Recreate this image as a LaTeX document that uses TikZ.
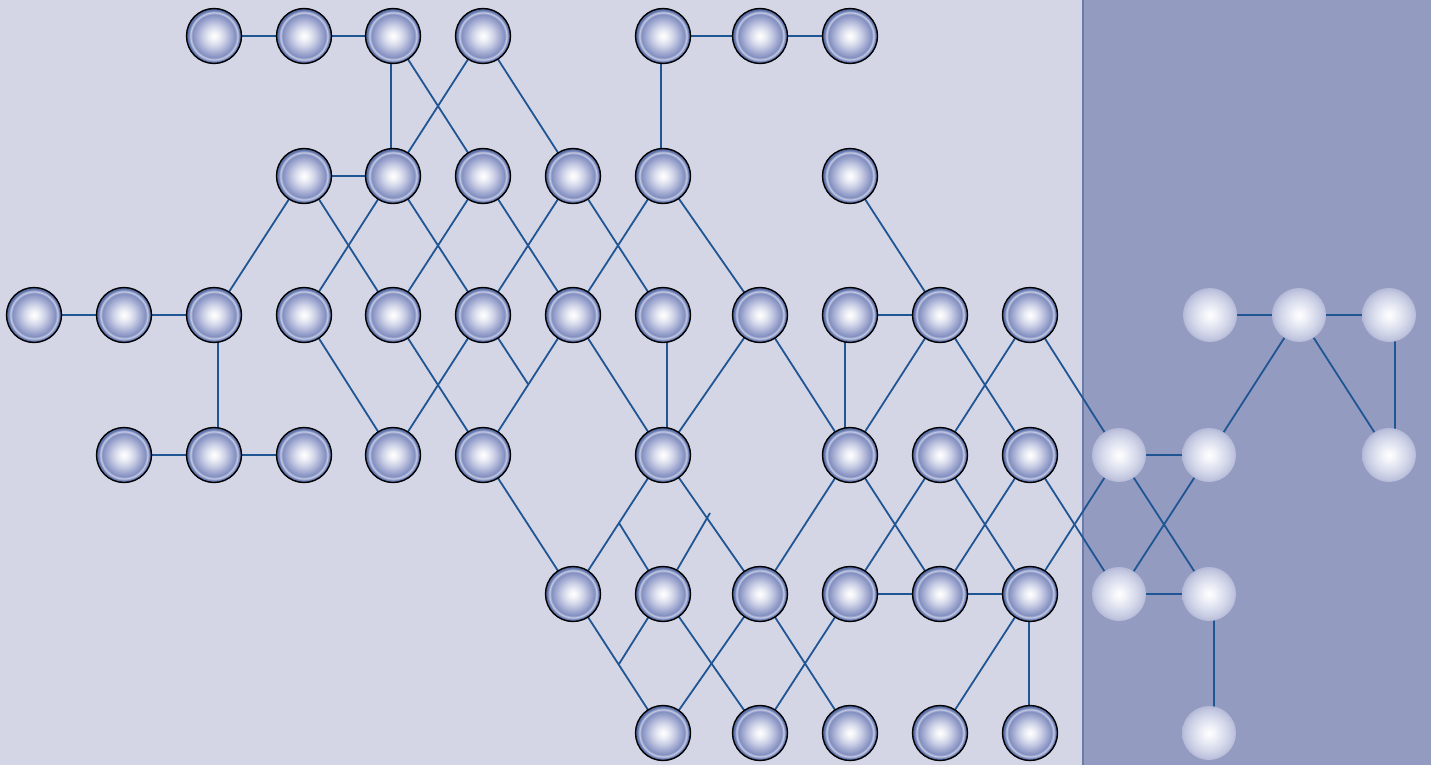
\documentclass[tikz,border=0pt]{standalone}
\usetikzlibrary{calc}
\definecolor{bgleft}{HTML}{D4D6E6}
\definecolor{bgright}{HTML}{939BC1}
\definecolor{divider}{HTML}{6C7BAA}
\definecolor{edgeblue}{HTML}{1F5592}
\definecolor{nsA}{HTML}{F0F1F7}
\definecolor{nsB}{HTML}{CBD0E6}
\definecolor{nsC}{HTML}{A6AED3}
\definecolor{nsD}{HTML}{7F8CBE}
\definecolor{nsE}{HTML}{C4CAE4}
\definecolor{nsF}{HTML}{7080B5}
\definecolor{nsG}{HTML}{4E66A0}
\definecolor{fsA}{HTML}{F4F5FA}
\definecolor{fsB}{HTML}{E0E3F0}
\definecolor{fsC}{HTML}{CFD3E7}
\definecolor{fsD}{HTML}{C2C6DF}
\definecolor{fsE}{HTML}{B4B9D7}
\pgfdeclareradialshading{nodeshade}{\pgfpoint{0bp}{0bp}}{color(0bp)=(white); color(4bp)=(nsA); color(10bp)=(nsB); color(15bp)=(nsC); color(20bp)=(nsD); color(21bp)=(nsE); color(21.8bp)=(nsE); color(22.8bp)=(nsF); color(25bp)=(nsG); color(50bp)=(nsG)}
\pgfdeclareradialshading{fadeshade}{\pgfpoint{0bp}{0bp}}{color(0bp)=(white); color(5bp)=(fsA); color(12bp)=(fsB); color(18bp)=(fsC); color(22bp)=(fsD); color(25bp)=(fsE); color(50bp)=(fsE)}
\pgfdeclarelayer{bg}
\pgfdeclarelayer{edges}
\pgfsetlayers{bg,edges,main}
\tikzset{
  nd/.style={circle, minimum size=55pt, inner sep=0pt, draw=black, line width=1.4pt, shading=nodeshade},
  fd/.style={circle, minimum size=54pt, inner sep=0pt, shading=fadeshade},
  ed/.style={draw=edgeblue, line width=1.8pt},
}
\begin{document}
\begin{tikzpicture}[x=1pt,y=-1pt]
\useasboundingbox (0,0) rectangle (1431,765);
\begin{pgfonlayer}{bg}
\fill[bgleft] (0,0) rectangle (1083,765);
\fill[bgright] (1083,0) rectangle (1431,765);
\draw[divider, line width=1.5pt] (1083,0) -- (1083,765);
\end{pgfonlayer}
% row A
\node[nd] (A3) at (214,36) {};
\node[nd] (A4) at (304,36) {};
\node[nd] (A5) at (393,36) {};
\node[nd] (A6) at (483,36) {};
\node[nd] (A8) at (663,36) {};
\node[nd] (A9) at (760,36) {};
\node[nd] (A10) at (850,36) {};
% row B
\node[nd] (B4) at (304,176) {};
\node[nd] (B5) at (393,176) {};
\node[nd] (B6) at (483,176) {};
\node[nd] (B7) at (573,176) {};
\node[nd] (B8) at (663,176) {};
\node[nd] (B10) at (850,176) {};
% row C
\node[nd] (C1) at (34,315) {};
\node[nd] (C2) at (124,315) {};
\node[nd] (C3) at (214,315) {};
\node[nd] (C4) at (304,315) {};
\node[nd] (C5) at (393,315) {};
\node[nd] (C6) at (483,315) {};
\node[nd] (C7) at (573,315) {};
\node[nd] (C8) at (663,315) {};
\node[nd] (C9) at (760,315) {};
\node[nd] (C10) at (850,315) {};
\node[nd] (C11) at (940,315) {};
\node[nd] (C12) at (1030,315) {};
\node[fd] (C14) at (1210,315) {};
\node[fd] (C15) at (1299,315) {};
\node[fd] (C16) at (1389,315) {};
% row D
\node[nd] (D2) at (124,455) {};
\node[nd] (D3) at (214,455) {};
\node[nd] (D4) at (304,455) {};
\node[nd] (D5) at (393,455) {};
\node[nd] (D6) at (483,455) {};
\node[nd] (D8) at (663,455) {};
\node[nd] (D10) at (850,455) {};
\node[nd] (D11) at (940,455) {};
\node[nd] (D12) at (1030,455) {};
\node[fd] (D13) at (1119,455) {};
\node[fd] (D14) at (1209,455) {};
\node[fd] (D16) at (1389,455) {};
% row E
\node[nd] (E7) at (573,594) {};
\node[nd] (E8) at (663,594) {};
\node[nd] (E9) at (760,594) {};
\node[nd] (E10) at (850,594) {};
\node[nd] (E11) at (940,594) {};
\node[nd] (E12) at (1030,594) {};
\node[fd] (E13) at (1119,594) {};
\node[fd] (E14) at (1209,594) {};
% row F
\node[nd] (F8) at (663,733) {};
\node[nd] (F9) at (760,733) {};
\node[nd] (F10) at (850,733) {};
\node[nd] (F11) at (940,733) {};
\node[nd] (F12) at (1030,733) {};
\node[fd] (F14) at (1209,733) {};
% half-edge ends
\coordinate (h1) at (528,384);
\coordinate (h2) at (619,523);
\coordinate (h3) at (710,513);
\coordinate (h4) at (619,664);
\begin{pgfonlayer}{edges}
% horizontal
\foreach \a/\b in {A3/A4,A4/A5,A8/A9,A9/A10,B4/B5,C1/C2,C2/C3,C10/C11,C14/C15,C15/C16,D2/D3,D3/D4,D13/D14,E10/E11,E11/E12,E13/E14}
  \draw[ed] (\a.center) -- (\b.center);
% vertical (slightly offset)
\foreach \a/\b/\s in {A5/B5/-2,A8/B8/-2,C3/D3/4,C8/D8/4,C10/D10/-5,C16/D16/6,E12/F12/-1,E14/F14/5}
  \draw[ed] ([xshift=\s pt]\a.center) -- ([xshift=\s pt]\b.center);
% diagonals
\foreach \a/\b in {A5/B6,A6/B5,A6/B7,
  B4/C3,B4/C5,B5/C4,B5/C6,B6/C5,B6/C7,B7/C6,B7/C8,B8/C7,B8/C9,B10/C11,
  C4/D5,C5/D6,C6/D5,C7/D6,C7/D8,C9/D8,C9/D10,C11/D10,C11/D12,C12/D11,C12/D13,C15/D14,C15/D16,
  D6/E7,D8/E7,D8/E9,D10/E9,D10/E11,D11/E10,D11/E12,D12/E11,D12/E13,D13/E12,D13/E14,D14/E13,
  E7/F8,E8/F9,E9/F8,E9/F10,E10/F9,E12/F11}
  \draw[ed] (\a.center) -- (\b.center);
% half edges
\draw[ed] (C6.center) -- (h1);
\draw[ed] (E8.center) -- (h2);
\draw[ed] (E8.center) -- (h3);
\draw[ed] (E8.center) -- (h4);
\end{pgfonlayer}
\end{tikzpicture}
\end{document}
